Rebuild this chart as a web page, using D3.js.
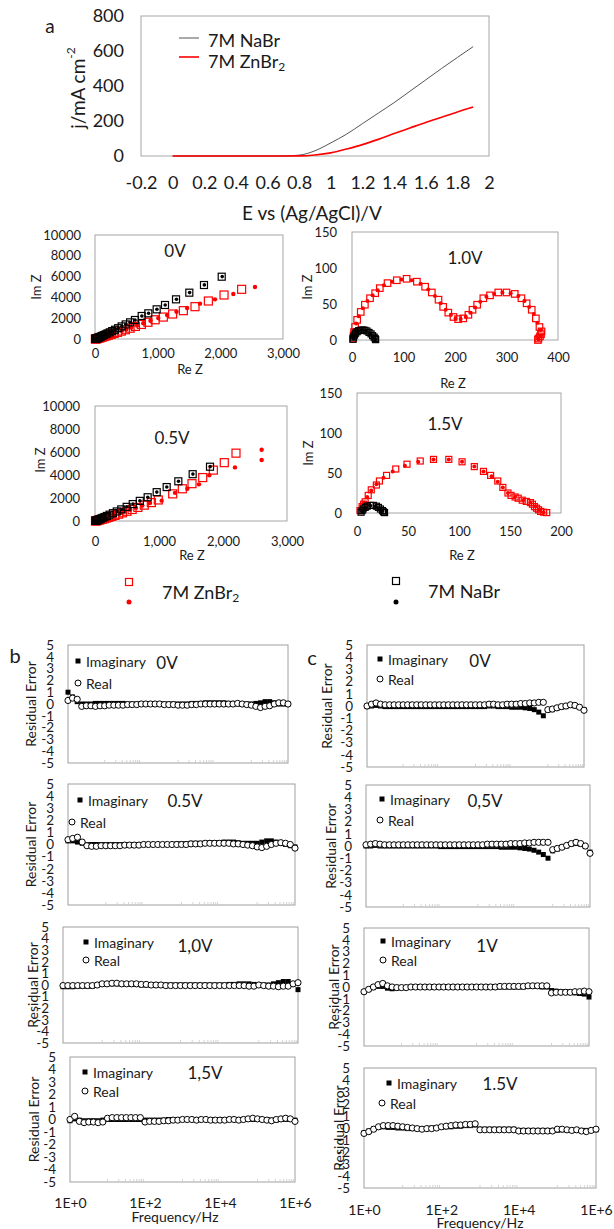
<!DOCTYPE html>
<html>
<head>
<meta charset="utf-8">
<script src="https://cdn.jsdelivr.net/npm/d3@7"></script>
<style>
  body { margin: 0; background: #fff; }
  text { font-family: Lato, "Open Sans", sans-serif; fill: #1a1a1a; }
</style>
</head>
<body>
<script>
// ---------- panel a : polarisation curves ----------
const lsvE = [0, 0.1, 0.2, 0.3, 0.4, 0.5, 0.6, 0.7, 0.8, 0.9, 1.0, 1.1, 1.2, 1.3, 1.4, 1.5, 1.6, 1.7, 1.8, 1.9];
const lsvNaBr = [0, 0, 0, 0, 0, 0, 0, 0.5, 5, 30, 75, 125, 185, 245, 305, 370, 435, 500, 563, 625];
const lsvZnBr2 = [0, 0, 0, 0, 0, 0, 0, 0, 0.5, 6, 18, 40, 65, 95, 128, 160, 192, 222, 252, 280];
const lsvXTicks = [-0.2, 0, 0.2, 0.4, 0.6, 0.8, 1, 1.2, 1.4, 1.6, 1.8, 2];
const lsvYTicks = [0, 200, 400, 600, 800];

// ---------- Nyquist plots [Re Z, Im Z] ----------
const ny0_NaBr = [[2022,5990],[1739,5190],[1505,4455],[1293,3814],[1117,3270],[984,2853],[851,2468],[745,2212],[638,1827],[560,1600],[490,1400],[425,1210],[370,1040],[320,890],[275,760],[235,640],[200,540],[170,450],[140,370],[115,300],[95,240],[75,185],[58,140],[44,100],[32,70],[22,45],[14,25],[8,12],[4,5]];
const ny0_NaBrFit = [[2030,6000],[1745,5200],[1510,4460],[1300,3820],[1120,3275],[988,2860],[855,2470],[748,2215],[640,1830],[562,1605],[492,1402],[427,1212],[372,1042],[322,892],[277,762],[237,642],[170,452],[115,302],[75,187],[44,102],[22,47]];
const ny0_ZnBr2 = [[2340,4776],[2059,4231],[1809,3654],[1596,3109],[1410,2724],[1239,2404],[1090,2110],[960,1850],[845,1610],[740,1400],[645,1210],[560,1040],[485,890],[420,760],[360,640],[305,535],[258,445],[215,365],[178,295],[145,235],[118,185],[94,142],[74,107],[56,78],[42,55],[30,36],[20,22],[12,12],[6,5]];
const ny0_ZnBr2Fit = [[2553,5000],[2207,4327],[1915,3814],[1676,3397],[1470,2980],[1300,2620],[1150,2300],[1010,2010],[885,1750],[770,1510],[670,1300],[580,1110],[500,940],[430,800],[300,540],[200,350],[120,200],[60,90],[25,35]];

const ny05_NaBr = [[1797,4720],[1526,4071],[1302,3451],[1120,2950],[964,2507],[823,2065],[700,1750],[590,1470],[495,1230],[410,1010],[340,830],[280,680],[228,550],[185,440],[148,345],[117,268],[92,205],[71,155],[54,115],[40,82],[29,56],[20,36],[12,20],[6,9]];
const ny05_NaBrFit = [[1800,4730],[1530,4080],[1305,3460],[1122,2955],[966,2512],[825,2070],[702,1755],[592,1475],[497,1235],[412,1015],[342,835],[230,555],[150,350],[94,208],[55,117],[30,58],[13,21]];
const ny05_ZnBr2 = [[2203,5900],[2020,5073],[1849,4425],[1683,3776],[1516,3245],[1364,2802],[1214,2360],[989,1829],[880,1600],[770,1380],[670,1180],[580,1000],[500,845],[430,710],[368,592],[312,490],[262,400],[218,325],[180,260],[146,205],[117,160],[92,122],[70,90],[52,64],[37,44],[25,28],[15,16],[8,7]];
const ny05_ZnBr2Fit = [[2604,6195],[2604,5310],[2187,4661],[1786,3982],[1625,3186],[1443,2802],[1250,2450],[1042,1770],[860,1560],[740,1340],[640,1140],[550,970],[470,820],[400,690],[290,480],[200,320],[130,200],[75,110],[35,45]];

const ny10_ZnBr2 = [[2,2],[3,6],[4,11],[6,18],[10,28],[17,39],[25,49],[35,58],[45,65],[54,72],[69,79],[87,83],[106,85],[126,81],[142,74],[155,66],[168,56],[177,46],[187,38],[197,32],[206,29],[216,30],[226,35],[234,42],[243,49],[255,58],[268,62],[284,66],[300,66],[316,64],[329,58],[339,51],[349,42],[357,30],[364,18],[368,12],[367,8],[365,5],[362,2],[361,0]];
const ny10_ZnBr2Fit = [[3,4],[5,14],[8,23],[13,33],[21,44],[30,54],[40,62],[50,69],[62,76],[78,81],[96,84],[116,83],[133,78],[148,70],[161,61],[172,51],[182,42],[192,35],[201,30],[211,29],[221,32],[230,38],[239,45],[249,53],[261,60],[276,64],[292,66],[308,65],[323,61],[335,54],[344,46],[353,36],[360,24],[366,14],[367,6],[362,1]];
const ny10_NaBr = [[2,1],[3,4],[5,7],[7,9.5],[10,11.5],[13,13],[17,13.5],[21,14],[25,13.5],[29,12.5],[33,10.5],[37,8.5],[40,6],[43,4],[45,2],[46,0.5]];
const ny10_NaBrFit = [[3,2],[6,8],[11,12],[19,14],[27,13],[35,9.5],[41,5],[45,1]];

const ny15_ZnBr2 = [[3,3],[5,8],[6.5,11],[8,14],[11,22],[14,29],[19,35],[22,40],[29,47],[38,55],[49,61],[62,65],[75,67],[90,67],[103,64],[115,58],[124,52],[131,47],[138,40],[143,32],[148,25],[151,22],[155,20],[158,18.5],[162,16],[166,14.5],[170,13],[172,11],[174,8],[176,6],[178,4],[180,2],[183,1],[186,0.5]];
const ny15_ZnBr2Fit = [[4,5],[7,13],[10,20],[14,28],[19,36],[26,44],[35,52],[47,59],[60,64],[75,67],[90,67],[103,64],[115,58],[124,52],[132,46],[138,39],[143,32],[148,25],[155,20],[163,16],[170,13],[175,8],[179,4],[183,1]];
const ny15_NaBr = [[4,1],[5,3],[6,5],[8,7],[10,8.5],[13,9.5],[16,9.5],[19,8.5],[21,7],[23,5],[25,3],[26,1.5],[27,0.5]];
const ny15_NaBrFit = [[5,2],[8,6.5],[13,9],[18,8.5],[22,6],[25,2.5]];

// ---------- residual plots ----------
const freqHz = [1,1.33,1.78,2.37,3.16,4.22,5.62,7.5,
  10,13.3,17.8,23.7,31.6,42.2,56.2,75,
  100,133,178,237,316,422,562,750,
  1e3,1.33e3,1.78e3,2.37e3,3.16e3,4.22e3,5.62e3,7.5e3,
  1e4,1.33e4,1.78e4,2.37e4,3.16e4,4.22e4,5.62e4,7.5e4,
  1e5,1.33e5,1.78e5,2.37e5,3.16e5,4.22e5,5.62e5,7.5e5,
  1e6];
const resYTicks = [5, 4, 3, 2, 1, 0, -1, -2, -3, -4, -5];
const resXTicks = [1, 1e2, 1e4, 1e6];
const resXLabels = ["1E+0", "1E+2", "1E+4", "1E+6"];

const b0V_real = [0.3,0.5,0.4,-0.2,-0.15,-0.15,-0.2,-0.15, -0.15,-0.1,-0.1,-0.1,-0.1,-0.05,-0.05,-0.05, 0,0,0,0,0,-0.05,-0.05,-0.05, -0.1,-0.1,-0.1,-0.05,-0.05,0,0,0, 0,0,0,0,0,0.05,0,-0.05, -0.1,-0.2,-0.3,-0.2,-0.15,0,0.1,0.1, 0];
const b0V_imag = [1.0,0.6,0.2,0,0,0,0.05,0.05, 0.05,0.05,0.05,0.05,0.05,0,0,0, 0,0,0,0,0,0,0,0, 0,0,0,0.05,0.05,0.05,0.1,0.1, 0.1,0.1,0.1,0.05,0.05,0,0,0, 0,0.05,0.1,0.2,0.2,0.1,0,0, 0];
const b05V_real = [0.4,0.5,0.6,0.2,-0.1,-0.15,-0.15,-0.1, -0.1,-0.1,-0.1,-0.1,-0.05,-0.05,-0.05,-0.05, 0,0,0,0,0,0,0,0, 0,0,0.05,0.05,0.05,0.1,0.1,0.1, 0.1,0.1,0.1,0.05,0.05,0,-0.05,-0.1, -0.2,-0.25,-0.15,0,0.1,0.15,0.1,0, -0.3];
const b05V_imag = [0.3,0.3,0.2,0.1,0,0,0,0, 0,0,0,0,0,0,0,0, 0,0,0,0,0,0,0,0.05, 0.05,0.05,0.1,0.1,0.1,0.1,0.15,0.15, 0.15,0.2,0.2,0.2,0.15,0.1,0.1,0.1, 0.1,0.2,0.3,0.3,0.2,0.1,0,-0.1, -0.2];
const b10V_real = [-0.05,-0.05,-0.05,-0.05,-0.05,-0.05,-0.05,0, 0.1,0.1,0.15,0.15,0.1,0.1,0.1,0.1, 0.05,0.05,0,0,0,-0.05,-0.05,-0.05, -0.05,-0.05,-0.05,-0.05,-0.05,-0.05,-0.05,-0.05, -0.05,-0.05,-0.05,-0.05,-0.05,-0.05,-0.1,-0.1, 0,-0.05,-0.1,-0.1,-0.15,-0.1,-0.1,0.1, 0.2];
const b10V_imag = [-0.15,-0.15,-0.15,-0.1,-0.1,-0.1,-0.1,0, 0.1,0.1,0.1,0.1,0.1,0.1,0.05,0.05, 0,0,0,0,0,0,0,0, 0,0,0,0,0,0,0,0, 0,0,0.05,0.05,0.1,0.1,0.1,0.05, 0,0,0,0.1,0.2,0.3,0.3,0.1, -0.4];
const b15V_real = [0,0.25,-0.15,-0.25,-0.2,-0.2,-0.25,-0.2, 0.1,0.15,0.15,0.15,0.15,0.15,0.15,0.15, -0.2,-0.15,-0.15,-0.15,-0.1,-0.1,-0.05,-0.05, 0,0,0,-0.05,0,0,-0.05,-0.05, -0.05,-0.05,0,0,-0.05,0,0.05,0.1, 0.05,0,-0.05,-0.1,0,0.05,0.1,0.05, -0.15];
const b15V_imag = [-0.1,0.05,-0.05,-0.1,-0.1,-0.1,-0.1,-0.05, 0,0,0,0,0,0,0,0, -0.05,-0.05,-0.05,-0.05,-0.05,0,0,0, 0,0,0,0,0,0,0,0, 0,0,0,0,0,0,0,0, 0,0,0,-0.05,-0.05,0,0,0, -0.05];

const c0V_real = [0,0.15,0.25,0.15,0.1,0.1,0.1,0.1, 0.1,0.1,0.1,0.1,0.1,0.1,0.1,0.1, 0.1,0.1,0.1,0.1,0.1,0.1,0.1,0.1, 0.1,0.1,0.1,0.15,0.15,0.1,0.1,0.15, 0.15,0.15,0.2,0.2,0.25,0.25,0.3,0.3, -0.3,-0.25,-0.15,-0.05,0,0.1,0.05,-0.1, -0.35];
const c0V_imag = [-0.05,0,0.05,0,-0.05,-0.05,-0.05,-0.05, -0.05,-0.05,-0.05,-0.05,-0.05,-0.05,-0.05,-0.05, -0.05,-0.05,-0.05,-0.05,-0.05,-0.05,-0.05,-0.05, -0.05,-0.05,-0.05,0,0,-0.05,-0.05,-0.05, -0.1,-0.1,-0.1,-0.15,-0.2,-0.3,-0.5,-0.8, -0.35,-0.3,-0.2,-0.1,-0.05,0.05,0,-0.1, -0.3];
const c05V_real = [0.1,0.15,0.2,0.15,0.1,0.1,0.1,0.1, 0.1,0.1,0.1,0.1,0.1,0.1,0.1,0.1, 0.1,0.1,0.1,0.1,0.1,0.1,0.1,0.1, 0.1,0.1,0.15,0.15,0.15,0.15,0.15,0.2, 0.2,0.2,0.25,0.25,0.3,0.3,0.3,0.3, -0.3,-0.2,-0.1,0.05,0.2,0.3,0.2,0, -0.6];
const c05V_imag = [0,0,0.05,0,0,0,0,0, 0,0,0,0,0,0,0,0, -0.05,-0.05,-0.05,-0.05,-0.05,-0.05,-0.05,-0.05, -0.05,-0.05,-0.05,-0.05,-0.05,-0.1,-0.1,-0.1, -0.1,-0.15,-0.2,-0.25,-0.35,-0.5,-0.7,-1.0, -0.4,-0.25,-0.1,0,0.15,0.2,0.15,-0.05, -0.5];
const c1V_real = [-0.4,-0.2,0,0.2,0.3,0.1,0,-0.05, -0.05,-0.05,0,0,0,0,0,0, 0,0,0,0,0,0,0,0, 0,0,0,0,0,0.05,0.05,0.05, 0.05,0.05,0.05,0.1,0.1,0.1,0.1,0.1, -0.5,-0.45,-0.45,-0.45,-0.45,-0.4,-0.4,-0.35, -0.4];
const c1V_imag = [-0.4,-0.2,-0.05,0.05,0.05,-0.1,-0.15,-0.1, -0.05,-0.05,0,0,0,0,0,0, 0,0,0,0,0,0,0,0, 0,0,0,0,0,0,0,0, 0,0,0,0.05,0.05,0.05,0,0, -0.3,-0.35,-0.4,-0.4,-0.45,-0.5,-0.55,-0.6, -0.85];
const c15V_real = [-0.45,-0.3,-0.1,0.1,0.2,0.2,0.2,0.15, 0.1,0.05,0,-0.05,-0.1,-0.05,-0.05,0, 0.1,0.15,0.2,0.25,0.25,0.3,0.3,0.35, -0.15,-0.15,-0.15,-0.15,-0.15,-0.15,-0.15,-0.15, -0.25,-0.25,-0.25,-0.25,-0.25,-0.25,-0.25,-0.25, -0.1,-0.1,-0.15,-0.2,-0.15,-0.25,-0.3,-0.2, -0.1];
const c15V_imag = [-0.4,-0.25,-0.05,0.05,0.1,0.05,0.05,0, 0,-0.05,-0.05,-0.05,-0.05,-0.05,0,0, 0.05,0.1,0.1,0.15,0.15,0.2,0.2,0.25, -0.1,-0.1,-0.1,-0.1,-0.1,-0.1,-0.1,-0.1, -0.2,-0.2,-0.2,-0.2,-0.2,-0.2,-0.2,-0.2, -0.2,-0.15,-0.15,-0.2,-0.2,-0.2,-0.2,-0.2, -0.15];

const RED = "#ff0000";
const svg = d3.select("body").append("svg").attr("width", 614).attr("height", 1229);

function txt(x, y, s, size, anchor = "middle", rotate = false) {
  const t = svg.append("text").attr("x", x).attr("y", y).attr("font-size", size)
    .attr("text-anchor", anchor).attr("dominant-baseline", "central").text(s);
  if (rotate) t.attr("transform", `rotate(-90,${x},${y})`);
  return t;
}

function styleAxis(g, size) {
  g.select(".domain").remove();
  g.attr("font-family", null).attr("font-size", null);
  g.selectAll("text").attr("font-size", size).attr("fill", "#1a1a1a");
}

function box(l, t, r, b, col) {
  svg.append("rect").attr("x", l).attr("y", t).attr("width", r - l).attr("height", b - t)
    .attr("fill", "none").attr("stroke", col).attr("stroke-width", 1);
}

// ---------- panel a ----------
txt(50, 25, "a", 19);
const ax = d3.scaleLinear().domain([-0.2, 2]).range([141, 489]);
const ay = d3.scaleLinear().domain([0, 800]).range([156, 16]);
box(ax(-0.2), ay(800), ax(2), ay(0), "#a6a6a6");
svg.append("g").attr("transform", `translate(${ax(-0.2)},0)`)
  .call(d3.axisLeft(ay).tickValues(lsvYTicks).tickSize(0).tickPadding(17).tickFormat(d => String(d)))
  .call(styleAxis, 18);
svg.append("g").attr("transform", `translate(0,${ay(0)})`)
  .call(d3.axisBottom(ax).tickValues(lsvXTicks).tickSize(0).tickPadding(20)
    .tickFormat(d => String(+d.toFixed(1))))
  .call(styleAxis, 18);

const lineA = d3.line().x((d, i) => ax(lsvE[i])).y(d => ay(d)).curve(d3.curveMonotoneX);
svg.append("path").datum(lsvNaBr).attr("d", lineA).attr("fill", "none").attr("stroke", "#555").attr("stroke-width", 1);
svg.append("path").datum(lsvZnBr2).attr("d", lineA).attr("fill", "none").attr("stroke", RED).attr("stroke-width", 1.6);

// legend a
svg.append("line").attr("x1", 179).attr("x2", 199).attr("y1", 38).attr("y2", 38).attr("stroke", "#555");
txt(208, 40, "7M NaBr", 18, "start");
svg.append("line").attr("x1", 179).attr("x2", 199).attr("y1", 57).attr("y2", 57).attr("stroke", RED).attr("stroke-width", 1.6);
const lz = txt(208, 61, "7M ZnBr", 18, "start");
lz.append("tspan").attr("font-size", 12).attr("dy", 5).text("2");

const yt = txt(77, 88, "j/mA cm", 19, "middle", true);
yt.append("tspan").attr("font-size", 12).attr("dy", -7).text("-2");
txt(312, 212, "E vs (Ag/AgCl)/V", 19);

// ---------- Nyquist ----------
function nyquist(cfg) {
  const x = d3.scaleLinear().domain([0, cfg.xMax]).range([cfg.l, cfg.r]);
  const y = d3.scaleLinear().domain([0, cfg.yMax]).range([cfg.b, cfg.t]);
  box(cfg.l, cfg.t, cfg.r, cfg.b, "#a6a6a6");
  svg.append("g").attr("transform", `translate(${cfg.l},0)`)
    .call(d3.axisLeft(y).tickValues(cfg.yTicks).tickSize(0).tickPadding(cfg.l - cfg.yLabR)
      .tickFormat(d => String(d)))
    .call(styleAxis, 13);
  svg.append("g").attr("transform", `translate(0,${cfg.b})`)
    .call(d3.axisBottom(x).tickValues(cfg.xTicks).tickSize(0).tickPadding(cfg.xLabY - cfg.b - 5)
      .tickFormat(d3.format(",")))
    .call(styleAxis, 13);
  txt(cfg.reZ[0], cfg.reZ[1], "Re Z", 13);
  txt(cfg.imZ[0], cfg.imZ[1], "Im Z", 13, "middle", true);
  txt(cfg.title[0], cfg.title[1], cfg.name, 17);

  const g = svg.append("g");
  cfg.series.forEach(s => {
    if (s.sq) {
      g.selectAll(null).data(s.data).join("rect")
        .attr("x", d => x(d[0]) - s.size / 2).attr("y", d => y(d[1]) - s.size / 2)
        .attr("width", s.size).attr("height", s.size)
        .attr("fill", "none").attr("stroke", s.col).attr("stroke-width", 1.2);
    } else {
      g.selectAll(null).data(s.data).join("circle")
        .attr("cx", d => x(d[0])).attr("cy", d => y(d[1])).attr("r", s.size)
        .attr("fill", s.col);
    }
  });
}

nyquist({ name: "0V", l: 95, r: 283, t: 235, b: 339, xMax: 3000, yMax: 10000,
  xTicks: [0, 1000, 2000, 3000], yTicks: [0, 2000, 4000, 6000, 8000, 10000],
  yLabR: 81, xLabY: 354, reZ: [190, 369], imZ: [36, 287], title: [175, 250],
  series: [
    { data: ny0_ZnBr2, sq: true, size: 8, col: RED },
    { data: ny0_ZnBr2Fit, sq: false, size: 2.2, col: RED },
    { data: ny0_NaBr, sq: true, size: 7, col: "#000" },
    { data: ny0_NaBrFit, sq: false, size: 1.8, col: "#000" }
  ] });

nyquist({ name: "1.0V", l: 352, r: 558, t: 232, b: 340, xMax: 400, yMax: 150,
  xTicks: [0, 100, 200, 300, 400], yTicks: [0, 50, 100, 150],
  yLabR: 337, xLabY: 358, reZ: [453, 383], imZ: [307, 287], title: [465, 257],
  series: [
    { data: ny10_ZnBr2, sq: true, size: 6.5, col: RED },
    { data: ny10_ZnBr2Fit, sq: false, size: 2, col: RED },
    { data: ny10_NaBr, sq: true, size: 6, col: "#000" },
    { data: ny10_NaBrFit, sq: false, size: 2, col: "#000" }
  ] });

nyquist({ name: "0.5V", l: 95, r: 287, t: 406, b: 521, xMax: 3000, yMax: 10000,
  xTicks: [0, 1000, 2000, 3000], yTicks: [0, 2000, 4000, 6000, 8000, 10000],
  yLabR: 80, xLabY: 542, reZ: [192, 555], imZ: [40, 460], title: [172, 437],
  series: [
    { data: ny05_ZnBr2, sq: true, size: 8, col: RED },
    { data: ny05_ZnBr2Fit, sq: false, size: 2.2, col: RED },
    { data: ny05_NaBr, sq: true, size: 7, col: "#000" },
    { data: ny05_NaBrFit, sq: false, size: 1.8, col: "#000" }
  ] });

nyquist({ name: "1.5V", l: 357, r: 561, t: 393, b: 513, xMax: 200, yMax: 150,
  xTicks: [0, 50, 100, 150, 200], yTicks: [0, 50, 100, 150],
  yLabR: 342, xLabY: 532, reZ: [462, 555], imZ: [308, 453], title: [445, 423],
  series: [
    { data: ny15_ZnBr2, sq: true, size: 6, col: RED },
    { data: ny15_ZnBr2Fit, sq: false, size: 2, col: RED },
    { data: ny15_NaBr, sq: true, size: 6, col: "#000" },
    { data: ny15_NaBrFit, sq: false, size: 2, col: "#000" }
  ] });

// shared legend for the Nyquist plots
svg.append("rect").attr("x", 125.5).attr("y", 578.5).attr("width", 7).attr("height", 7)
  .attr("fill", "none").attr("stroke", RED).attr("stroke-width", 1.2);
svg.append("circle").attr("cx", 129).attr("cy", 602).attr("r", 2.5).attr("fill", RED);
const lg = txt(162, 592, "7M ZnBr", 18, "start");
lg.append("tspan").attr("font-size", 12).attr("dy", 5).text("2");
svg.append("rect").attr("x", 392.5).attr("y", 577.5).attr("width", 7).attr("height", 7)
  .attr("fill", "none").attr("stroke", "#000").attr("stroke-width", 1.2);
svg.append("circle").attr("cx", 396).attr("cy", 602).attr("r", 2.5).attr("fill", "#000");
txt(428, 591, "7M NaBr", 18, "start");

// ---------- residual plots ----------
function residual(cfg) {
  const x = d3.scaleLog().domain([1, 1e6]).range([cfg.l, cfg.r]);
  const y = d3.scaleLinear().domain([-5, 5]).range([cfg.b, cfg.t]);
  box(cfg.l, cfg.t, cfg.r, cfg.b, "#a0a0a0");
  svg.append("g").attr("transform", `translate(${cfg.l},0)`)
    .call(d3.axisLeft(y).tickValues(resYTicks).tickSize(0).tickPadding(14).tickFormat(d => String(d)))
    .call(styleAxis, 13.5);
  // faint minor log ticks
  const minor = [];
  [1, 3, 5].forEach(e => d3.range(1, 10).forEach(k => minor.push(k * Math.pow(10, e))));
  svg.append("g").selectAll("line").data(minor).join("line")
    .attr("x1", d => x(d)).attr("x2", d => x(d)).attr("y1", cfg.b).attr("y2", cfg.b - 3)
    .attr("stroke", "#c8c8c8").attr("stroke-width", 0.8);
  if (cfg.xLabY) {
    svg.append("g").attr("transform", `translate(0,${cfg.b})`)
      .call(d3.axisBottom(x).tickValues(resXTicks).tickSize(0).tickPadding(cfg.xLabY - cfg.b - 5)
        .tickFormat((d, i) => resXLabels[i]))
      .call(styleAxis, 14);
    txt(cfg.freq[0], cfg.freq[1], "Frequency/Hz", 14);
  }
  txt(cfg.titleX, (cfg.t + cfg.b) / 2, "Residual Error", 14, "middle", true);
  txt(cfg.name[1], cfg.name[2], cfg.name[0], 17);

  // legend
  svg.append("rect").attr("x", cfg.sq[0] - 2.5).attr("y", cfg.sq[1] - 2.5).attr("width", 5).attr("height", 5).attr("fill", "#000");
  txt(cfg.sq[0] + 8, cfg.sq[1], "Imaginary", 14, "start");
  svg.append("circle").attr("cx", cfg.ci[0]).attr("cy", cfg.ci[1]).attr("r", 3)
    .attr("fill", "#fff").attr("stroke", "#000").attr("stroke-width", 1);
  txt(cfg.ci[0] + 8, cfg.ci[1], "Real", 14, "start");

  const g = svg.append("g");
  g.selectAll(null).data(cfg.imag).join("rect")
    .attr("x", (d, i) => x(freqHz[i]) - 2.5).attr("y", d => y(d) - 2.5)
    .attr("width", 5).attr("height", 5).attr("fill", "#000");
  g.selectAll(null).data(cfg.real).join("circle")
    .attr("cx", (d, i) => x(freqHz[i])).attr("cy", d => y(d)).attr("r", 3.1)
    .attr("fill", "#fff").attr("stroke", "#000").attr("stroke-width", 1);
}

txt(15, 655, "b", 20);
txt(312, 657, "c", 20);

residual({ l: 68, r: 288, t: 645, b: 763, titleX: 30, name: ["0V", 167, 662],
  sq: [78, 661], ci: [78, 683], real: b0V_real, imag: b0V_imag });
residual({ l: 68, r: 295, t: 784, b: 905, titleX: 30, name: ["0.5V", 185, 800],
  sq: [80, 800], ci: [72, 822], real: b05V_real, imag: b05V_imag });
residual({ l: 63, r: 298, t: 927, b: 1043, titleX: 32, name: ["1,0V", 195, 945],
  sq: [86, 942], ci: [86, 960], real: b10V_real, imag: b10V_imag });
residual({ l: 70, r: 295, t: 1057, b: 1182, titleX: 33, name: ["1,5V", 205, 1072],
  sq: [85, 1072], ci: [85, 1091], real: b15V_real, imag: b15V_imag,
  xLabY: 1203, freq: [175, 1216] });

residual({ l: 367, r: 584, t: 645, b: 767, titleX: 326, name: ["0V", 480, 660],
  sq: [380, 659], ci: [380, 679], real: c0V_real, imag: c0V_imag });
residual({ l: 366, r: 590, t: 785, b: 907, titleX: 330, name: ["0,5V", 485, 800],
  sq: [382, 799], ci: [380, 820], real: c05V_real, imag: c05V_imag });
residual({ l: 364, r: 589, t: 928, b: 1046, titleX: 333, name: ["1V", 487, 945],
  sq: [383, 941], ci: [383, 960], real: c1V_real, imag: c1V_imag });
residual({ l: 364, r: 596, t: 1068, b: 1188, titleX: 338, name: ["1.5V", 500, 1083],
  sq: [389, 1083], ci: [382, 1103], real: c15V_real, imag: c15V_imag,
  xLabY: 1210, freq: [480, 1222] });
</script>
</body>
</html>
